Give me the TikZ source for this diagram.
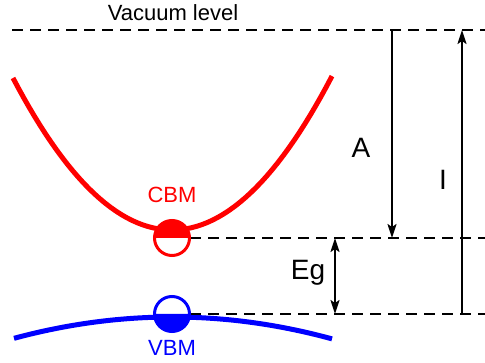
\documentclass[tikz,border=0pt]{standalone}
\usepackage{fontspec}
\setmainfont{Liberation Sans}
\usetikzlibrary{
    arrows.meta
}

\begin{document}
\begin{tikzpicture}[
        x=1pt, y=-1pt,
        level/.style={
            dash pattern=on 11pt off 7pt,
            line width=1.3pt
        },
        gap/.style={
            -{Stealth[length=14pt,width=9pt,inset=3pt]},
            line width=2pt
        },
        band/.style={
            line width=5pt
        },
        edge/.style={
            circle,
            inner sep=0pt,
            outer sep=0pt,
            minimum size=35pt,
            fill=white
        },
        ring/.style={
            line width=3pt
        },
        sym/.style={font=\fontsize{28}{30}\selectfont},
        tagtext/.style={font=\fontsize{22}{24}\selectfont}
    ]

    \useasboundingbox (0,0) rectangle (485,363);

    % levels
    \coordinate (vacL) at (12,30);
    \coordinate (vacR) at (485,30);
    \coordinate (cbmR) at (485,238);
    \coordinate (vbmR) at (485,314);

    \node[tagtext] (vac) at (173,13) {Vacuum level};
    \draw[level] (vacL) -- (vacR);

    % bands
    \draw[band, red] plot[domain=13:332, samples=60] (\x, {230-(0.00601*(\x-172))*(\x-172)});
    \draw[band, blue] plot[domain=14:332, samples=60] (\x, {317+(0.00085*(\x-172))*(\x-172)});

    \coordinate (cbmC) at (172,238);
    \coordinate (vbmC) at (172,314);
    \draw[level] (cbmC) -- (cbmR);
    \draw[level] (vbmC) -- (vbmR);

    % band edges, half filled
    \node[edge] (cbm) at (cbmC) {};
    \fill[red] (cbm.west) arc[start angle=180, end angle=0, radius=17.5pt] -- cycle;
    \draw[ring, red] (cbm.center) circle[radius=17.5pt];

    \node[edge] (vbm) at (vbmC) {};
    \fill[blue] (vbm.west) arc[start angle=180, end angle=360, radius=17.5pt] -- cycle;
    \draw[ring, blue] (vbm.center) circle[radius=17.5pt];

    \node[tagtext, text=red] (cbmlabel) at (172,195) {CBM};
    \node[tagtext, text=blue] (vbmlabel) at (172,348) {VBM};

    % energies
    \coordinate (aTop) at (392,30);
    \coordinate (aBot) at (392,238);
    \coordinate (iTop) at (462,30);
    \coordinate (iBot) at (462,314);
    \coordinate (egTop) at (335,238);
    \coordinate (egBot) at (335,314);

    \draw[gap] (aTop) -- (aBot);
    \draw[gap] (iBot) -- (iTop);
    \draw[gap, {Stealth[length=14pt,width=9pt,inset=3pt]}-{Stealth[length=14pt,width=9pt,inset=3pt]}] (egTop) -- (egBot);

    \node[sym] (A) at (361,148) {A};
    \node[sym] (I) at (443,180) {I};
    \node[sym] (Eg) at (308,273) {Eg};

\end{tikzpicture}
\end{document}
